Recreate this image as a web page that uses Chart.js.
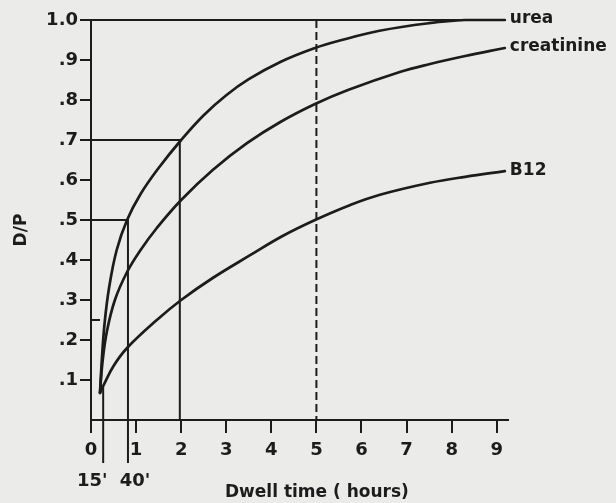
<!DOCTYPE html>
<html><head><meta charset="utf-8">
<script src="https://cdn.jsdelivr.net/npm/chart.js@4/dist/chart.umd.min.js"></script>
<style>html,body{margin:0;padding:0;background:#ebebe9;}#wrap{width:616px;height:503px;}</style>
</head><body><div id="wrap"><canvas id="c" width="616" height="503"></canvas></div>
<script>
// ---- data (x in hours, y = D/P) ----
const seriesNames = ['urea', 'creatinine', 'B12'];
const ureaX = [0.20, 0.24, 0.30, 0.40, 0.57, 0.80, 1.10, 1.50, 2.00, 2.50, 3.00, 3.50, 4.20, 4.97, 5.50, 6.40, 7.50, 8.30, 9.18];
const ureaY = [0.068, 0.15, 0.24, 0.33, 0.425, 0.50, 0.565, 0.63, 0.70, 0.762, 0.812, 0.852, 0.895, 0.93, 0.948, 0.973, 0.992, 1.0, 1.0];
const creatX = [0.20, 0.25, 0.35, 0.53, 0.80, 1.10, 1.46, 2.00, 2.70, 3.46, 4.20, 4.97, 5.70, 6.85, 7.52, 8.30, 9.18];
const creatY = [0.068, 0.14, 0.22, 0.30, 0.37, 0.425, 0.48, 0.55, 0.625, 0.692, 0.745, 0.79, 0.825, 0.87, 0.89, 0.91, 0.93];
const b12X = [0.20, 0.27, 0.50, 0.80, 1.46, 2.00, 2.70, 3.53, 4.25, 4.97, 5.74, 6.41, 7.52, 8.30, 9.18];
const b12Y = [0.068, 0.085, 0.135, 0.18, 0.25, 0.30, 0.355, 0.412, 0.46, 0.50, 0.537, 0.563, 0.593, 0.608, 0.622];
const xTicks = [0, 1, 2, 3, 4, 5, 6, 7, 8, 9];
const yTicks = [0.1, 0.2, 0.3, 0.4, 0.5, 0.6, 0.7, 0.8, 0.9, 1.0];
const yTickLabels = ['.1', '.2', '.3', '.4', '.5', '.6', '.7', '.8', '.9', '1.0'];
const minuteMarks = [0.27, 0.82];          // positions of the 15' and 40' guide lines (as drawn)
const minuteLabels = ["15'", "40'"];
const markTwoHours = 1.97;                 // 2 h guide
const ureaAt40 = 0.50, ureaAt2h = 0.70;    // guide levels
const dashedAt = 5;                        // dashed guide at 5 h
const xMax = 9.25, lineEnd = 9.18;
const xTitle = 'Dwell time ( hours)';
const yTitle = 'D/P';

const INK = '#1c1c1c';
const pts = (xs, ys) => xs.map((v, i) => ({x: v, y: ys[i]}));

const guide = (data, extra) => Object.assign({
  data, showLine: true, borderColor: INK, borderWidth: 2, pointRadius: 0,
  tension: 0, clip: false, fill: false
}, extra || {});
const curve = (label, data) => ({
  label, data, showLine: true, borderColor: INK, borderWidth: 2.7, pointRadius: 0,
  tension: 0.4, clip: false, borderCapStyle: 'round', borderJoinStyle: 'round'
});

const datasets = [
  guide(pts([0, lineEnd], [1.0, 1.0])),
  guide(pts([0, markTwoHours, markTwoHours], [ureaAt2h, ureaAt2h, 0])),
  guide(pts([0, minuteMarks[1], minuteMarks[1]], [ureaAt40, ureaAt40, -0.1075])),
  guide(pts([minuteMarks[0], minuteMarks[0]], [0.085, -0.1075])),
  guide(pts([0, 0.2], [0.25, 0.25])),
  guide(pts([dashedAt, dashedAt], [1.0, 0]), {borderDash: [8, 4]}),
  curve(seriesNames[0], pts(ureaX, ureaY)),
  curve(seriesNames[1], pts(creatX, creatY)),
  curve(seriesNames[2], pts(b12X, b12Y))
];

const bg = {
  id: 'bg',
  beforeDraw(chart) {
    const c = chart.ctx; c.save(); c.fillStyle = '#ebebe9'; c.fillRect(0, 0, chart.width, chart.height); c.restore();
  }
};

const texts = {
  id: 'texts',
  afterDatasetsDraw(chart) {
    const ctx = chart.ctx, xs = chart.scales.x, ys = chart.scales.y;
    ctx.save();
    ctx.fillStyle = INK;
    ctx.textBaseline = 'middle';
    ctx.textAlign = 'left';
    ctx.font = 'bold 17px "DejaVu Sans"';
    const ends = [[ureaX, ureaY], [creatX, creatY], [b12X, b12Y]];
    ends.forEach((e, i) => {
      const px = xs.getPixelForValue(e[0][e[0].length - 1]) + 5;
      const py = ys.getPixelForValue(e[1][e[1].length - 1]);
      ctx.fillText(seriesNames[i], px, py - 1);
    });
    ctx.font = 'bold 18px "DejaVu Sans"';
    ctx.textAlign = 'center';
    ctx.fillText(minuteLabels[0], xs.getPixelForValue(minuteMarks[0]) - 11, 481);
    ctx.fillText(minuteLabels[1], xs.getPixelForValue(minuteMarks[1]) + 7, 481);
    ctx.font = 'bold 17px "DejaVu Sans"';
    ctx.textAlign = 'left';
    ctx.fillText(xTitle, 225, 493);
    ctx.translate(22, 230);
    ctx.rotate(-Math.PI / 2);
    ctx.textAlign = 'center';
    ctx.fillText(yTitle, 0, 0);
    ctx.restore();
  }
};

new Chart(document.getElementById('c'), {
  type: 'scatter',
  data: {datasets},
  plugins: [bg, texts],
  options: {
    responsive: false,
    animation: false,
    layout: {padding: {left: 0, right: 108, top: 20, bottom: 0}},
    plugins: {legend: {display: false}, tooltip: {enabled: false}},
    scales: {
      x: {
        type: 'linear', min: 0, max: xMax,
        afterFit: s => { s.height = 83; },
        afterBuildTicks: s => { s.ticks = xTicks.map(v => ({value: v})); },
        border: {display: true, color: INK, width: 2},
        grid: {display: true, drawOnChartArea: false, drawTicks: true, tickLength: 13, color: INK, lineWidth: 2},
        ticks: {autoSkip: false, maxRotation: 0, color: INK, padding: 7, font: {family: 'DejaVu Sans', size: 18, weight: 'bold'}, callback: v => String(v)}
      },
      y: {
        type: 'linear', min: 0, max: 1.0,
        afterFit: s => { s.width = 91; },
        afterBuildTicks: s => { s.ticks = [{value: 0}].concat(yTicks.map(v => ({value: v}))); },
        border: {display: true, color: INK, width: 2},
        grid: {display: true, drawOnChartArea: false, drawTicks: true, tickLength: 11, lineWidth: 2,
               color: c => (c.tick && c.tick.value === 0) ? 'rgba(0,0,0,0)' : INK},
        ticks: {autoSkip: false, color: INK, padding: 2, font: {family: 'DejaVu Sans', size: 18, weight: 'bold'},
                callback: v => { const i = yTicks.findIndex(t => Math.abs(t - v) < 1e-6); return i < 0 ? '' : yTickLabels[i]; }}
      }
    }
  }
});
</script>
</body></html>
